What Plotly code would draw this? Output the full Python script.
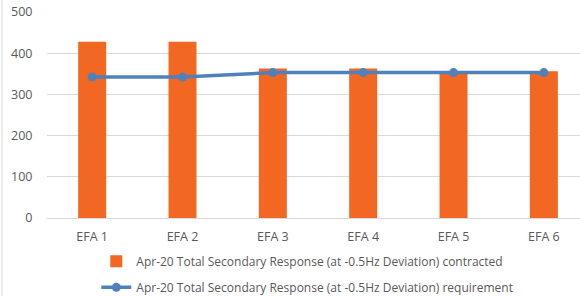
import plotly.graph_objects as go

categories = ["EFA 1", "EFA 2", "EFA 3", "EFA 4", "EFA 5", "EFA 6"]
contracted = [428, 428, 363, 363, 357, 356]
requirement = [342, 342, 353, 353, 353, 353]
y_ticks = [0, 100, 200, 300, 400, 500]

name_bar = "Apr-20 Total Secondary Response (at -0.5Hz Deviation) contracted"
name_line = "Apr-20 Total Secondary Response (at -0.5Hz Deviation) requirement"

fig = go.Figure()
fig.add_trace(go.Bar(x=categories, y=contracted, name=name_bar, legendgroup="a",
                     marker=dict(color="#F26722", line=dict(width=0)), width=0.31))
fig.add_trace(go.Scatter(x=categories, y=requirement, name=name_line, mode="lines+markers",
                         legendgroup="b",
                         line=dict(color="#4F81BD", width=3.5),
                         marker=dict(color="#4F81BD", size=9)))

PL, PT, PB = 47, 12, 78
PW = 580 - PL
PH = 296 - PT - PB

fig.update_layout(
    width=580, height=296,
    margin=dict(l=PL, r=0, t=PT, b=PB, autoexpand=False),
    plot_bgcolor="white", paper_bgcolor="white",
    font=dict(family="Open Sans, Liberation Sans, sans-serif", size=12, color="#595959"),
    showlegend=True,
    legend=dict(orientation="v", x=0.0925, xanchor="left", y=-0.14, yanchor="top",
                traceorder="grouped", tracegroupgap=7,
                font=dict(size=12, color="#595959"), itemwidth=30),
    xaxis=dict(type="category", range=[-0.5, 5.4], showgrid=False, showline=True,
               linecolor="#d9d9d9", ticks="outside", ticklen=7, tickcolor="rgba(0,0,0,0)",
               tickfont=dict(size=12.5, color="#595959")),
    yaxis=dict(range=[0, 500], tickvals=y_ticks, showgrid=True, gridcolor="#d9d9d9",
               gridwidth=1, zeroline=False, showline=False,
               ticks="outside", ticklen=11, tickcolor="rgba(0,0,0,0)",
               tickfont=dict(size=12.5, color="#595959")),
    shapes=[dict(type="line", xref="paper", yref="paper", x0=(2 - PL) / PW, x1=(2 - PL) / PW,
                 y0=-PB / PH, y1=1 + PT / PH, line=dict(color="#d9d9d9", width=1))],
)
fig.write_html("out.html", config={"displayModeBar": False},
               post_script="document.body.style.margin='0';document.body.style.overflow='hidden';")
